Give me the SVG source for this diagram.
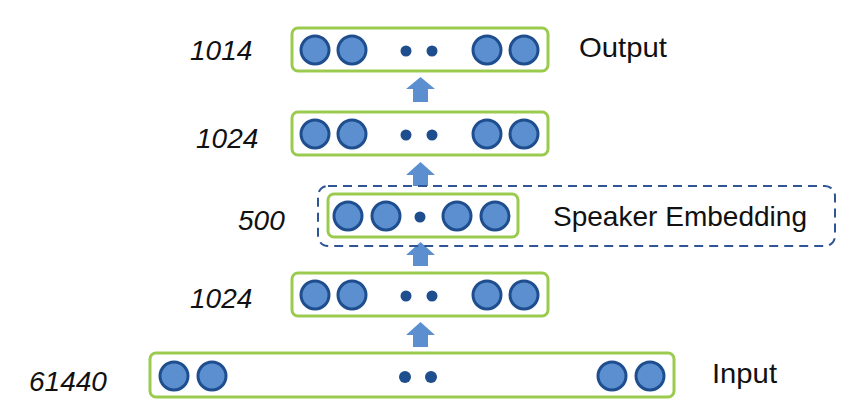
<svg xmlns="http://www.w3.org/2000/svg" width="868" height="411" viewBox="0 0 868 411">
<style>
.layer{fill:#ffffff;stroke:#9BCB4E;stroke-width:3}
.n{fill:#5C8FD0;stroke:#1F4E8F;stroke-width:3}
.d{fill:#1F4E8F}
.arr{fill:#5C8FD0}
.dash{fill:none;stroke:#2F5597;stroke-width:2;stroke-dasharray:9 6}
.num{font-family:"Liberation Sans",Arial,sans-serif;font-style:italic;font-size:28px;fill:#111}
.lbl{font-family:"Liberation Sans",Arial,sans-serif;font-size:28px;fill:#111}
</style>
<rect width="868" height="411" fill="#ffffff"/>
<g id="connectors">
<polygon class="arr" points="420.5,77 435,89 428,89 428,102 413,102 413,89 406,89"/>
<polygon class="arr" points="420.5,162 435,175 428,175 428,186 413,186 413,175 406,175"/>
<polygon class="arr" points="420.5,242 435,255 428,255 428,266 413,266 413,255 406,255"/>
<polygon class="arr" points="420.5,322 435,335 428,335 428,347 413,347 413,335 406,335"/>
</g>
<g id="output-layer">
<rect class="layer" x="292" y="28" width="256" height="43" rx="6"/>
<circle class="n" cx="315" cy="50" r="14"/>
<circle class="n" cx="352" cy="50" r="14"/>
<circle class="d" cx="406" cy="51" r="5.5"/>
<circle class="d" cx="432" cy="51" r="5.5"/>
<circle class="n" cx="487" cy="50" r="14"/>
<circle class="n" cx="524" cy="50" r="14"/>
<text class="num" x="190" y="60">1014</text>
<text class="lbl" x="579" y="57" textLength="88" lengthAdjust="spacingAndGlyphs">Output</text>
</g>
<g id="hidden-layer-2">
<rect class="layer" x="292" y="112" width="256" height="43" rx="6"/>
<circle class="n" cx="315" cy="134" r="14"/>
<circle class="n" cx="352" cy="134" r="14"/>
<circle class="d" cx="406" cy="135" r="5.5"/>
<circle class="d" cx="432" cy="135" r="5.5"/>
<circle class="n" cx="487" cy="134" r="14"/>
<circle class="n" cx="524" cy="134" r="14"/>
<text class="num" x="196" y="148">1024</text>
</g>
<g id="speaker-embedding">
<rect class="dash" x="318" y="186" width="517" height="60" rx="10"/>
<rect class="layer" x="328" y="194" width="190" height="43" rx="6"/>
<circle class="n" cx="348" cy="216" r="14"/>
<circle class="n" cx="386" cy="216" r="14"/>
<circle class="d" cx="420" cy="217" r="5.5"/>
<circle class="n" cx="457" cy="216" r="14"/>
<circle class="n" cx="495" cy="216" r="14"/>
<text class="num" x="238" y="230">500</text>
<text class="lbl" x="553" y="226" textLength="254" lengthAdjust="spacingAndGlyphs">Speaker Embedding</text>
</g>
<g id="hidden-layer-1">
<rect class="layer" x="292" y="273" width="256" height="43" rx="6"/>
<circle class="n" cx="315" cy="295" r="14"/>
<circle class="n" cx="352" cy="295" r="14"/>
<circle class="d" cx="406" cy="296" r="5.5"/>
<circle class="d" cx="432" cy="296" r="5.5"/>
<circle class="n" cx="487" cy="295" r="14"/>
<circle class="n" cx="524" cy="295" r="14"/>
<text class="num" x="190" y="308">1024</text>
</g>
<g id="input-layer">
<rect class="layer" x="150" y="353" width="524" height="44" rx="6"/>
<circle class="n" cx="174" cy="376" r="14"/>
<circle class="n" cx="212" cy="376" r="14"/>
<circle class="d" cx="405" cy="377" r="6"/>
<circle class="d" cx="431" cy="377" r="6"/>
<circle class="n" cx="612" cy="376" r="14"/>
<circle class="n" cx="650" cy="376" r="14"/>
<text class="num" x="29" y="391">61440</text>
<text class="lbl" x="712" y="383" textLength="65" lengthAdjust="spacingAndGlyphs">Input</text>
</g>
</svg>
